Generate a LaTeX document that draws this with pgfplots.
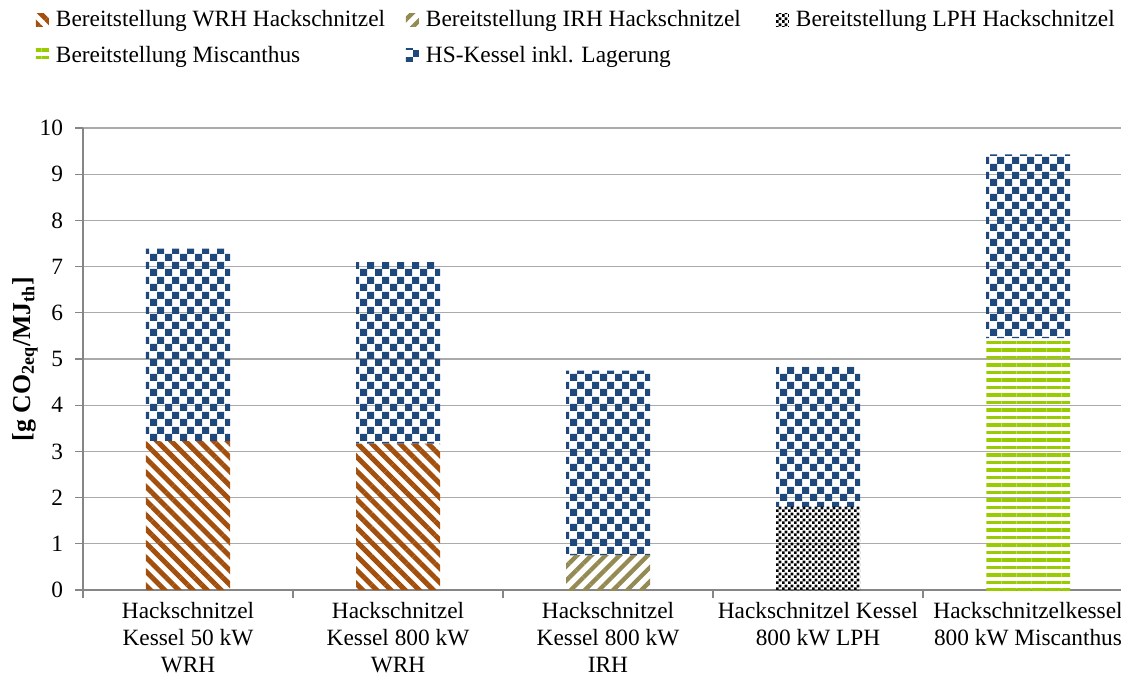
\documentclass[border=0pt]{standalone}
\usepackage{pgfplots}
\pgfplotsset{compat=1.18}
\usetikzlibrary{patterns,patterns.meta}
\usepackage{fontspec}
\setmainfont{Liberation Serif}

\definecolor{wrh}{RGB}{163,80,14}
\definecolor{irh}{RGB}{148,138,84}
\definecolor{misc}{RGB}{153,204,0}
\definecolor{hs}{RGB}{31,73,125}
\definecolor{gridgray}{RGB}{170,170,170}
\definecolor{axisgray}{RGB}{134,134,134}

\tikzdeclarepattern{
  name=BlueChecker, type=uncolored,
  bottom left={(0pt,0pt)}, top right={(9pt,9pt)}, tile size={(9pt,9pt)},
  code={\fill (0pt,0pt) rectangle (4.5pt,4.5pt); \fill (4.5pt,4.5pt) rectangle (9pt,9pt);}
}
\tikzdeclarepattern{
  name=SmallChecker, type=uncolored,
  bottom left={(0pt,0pt)}, top right={(3.4pt,3.4pt)}, tile size={(3.4pt,3.4pt)},
  code={\fill (0pt,0pt) rectangle (1.7pt,1.7pt); \fill (1.7pt,1.7pt) rectangle (3.4pt,3.4pt);}
}

\begin{document}
\begin{tikzpicture}
\begin{axis}[
  at={(49.8pt,54pt)}, anchor=south west,
  scale only axis, width=630pt, height=277.2pt,
  ybar stacked, bar width=0.4,
  xmin=-0.5, xmax=4.5, ymin=0, ymax=10,
  ytick={0,1,...,10},
  xtick={-0.5,0.5,1.5,2.5,3.5,4.5},
  xticklabels={},
  extra x ticks={0,1,2,3,4},
  extra x tick labels={{Hackschnitzel\\Kessel 50 kW\\WRH},{Hackschnitzel\\Kessel 800 kW\\WRH},{Hackschnitzel\\Kessel 800 kW\\IRH},{Hackschnitzel Kessel\\800 kW LPH},{Hackschnitzelkessel\\800 kW Miscanthus}},
  extra x tick style={major tick length=0pt},
  x tick label style={align=center, font=\fontsize{14}{16.2}\selectfont, yshift=-5pt, inner ysep=2pt},
  y tick label style={font=\fontsize{14}{16.5}\selectfont, xshift=-4pt},
  /pgf/number format/assume math mode=true,
  axis lines*=left,
  axis line style={draw=axisgray, line width=0.7pt},
  tick style={draw=axisgray, line width=0.7pt},
  tick align=outside,
  major tick length=4.5pt,
  ymajorgrids, grid style={draw=gridgray, line width=0.7pt},
  ylabel={\textbf{[g CO\textsubscript{2eq}/MJ\textsubscript{th}]}},
  ylabel style={at={(axis description cs:-0.0552,0.5)}, anchor=center, font=\fontsize{15.5}{18}\selectfont},
  legend columns=3,
  legend style={draw=none, fill=none, inner sep=0pt, outer sep=0pt,
    at={(axis description cs:-0.0448,1.255)}, anchor=north west,
    nodes={inner sep=0pt}, column sep=0pt, row sep=10.2pt,
    font=\fontsize{14}{16.5}\selectfont},
  legend cell align=left,
  legend image code/.code={\fill[#1] (0pt,-3.9pt) rectangle (7.8pt,3.9pt); \path (12pt,0pt);},
]
\addplot[draw=none, pattern={Lines[angle=-45,distance=6pt,line width=3pt]}, pattern color=wrh]
  coordinates {(0,3.22) (1,3.17) (2,0) (3,0) (4,0)};
\addlegendentry{\makebox[210pt][l]{Bereitstellung WRH Hackschnitzel}}
\addplot[draw=none, pattern={Lines[angle=45,distance=6pt,line width=2.6pt]}, pattern color=irh]
  coordinates {(0,0) (1,0) (2,0.75) (3,0) (4,0)};
\addlegendentry{\makebox[210pt][l]{Bereitstellung IRH Hackschnitzel}}
\addplot[draw=none, pattern=SmallChecker, pattern color=black]
  coordinates {(0,0) (1,0) (2,0) (3,1.80) (4,0)};
\addlegendentry{Bereitstellung LPH Hackschnitzel}
\addplot[draw=none, pattern={Lines[angle=0,distance=4.5pt,line width=2.2pt]}, pattern color=misc]
  coordinates {(0,0) (1,0) (2,0) (3,0) (4,5.45)};
\addlegendentry{\makebox[210pt][l]{Bereitstellung Miscanthus}}
\addplot[draw=none, pattern=BlueChecker, pattern color=hs]
  coordinates {(0,4.17) (1,3.93) (2,4.00) (3,3.04) (4,3.98)};
\addlegendentry{\makebox[210pt][l]{HS-Kessel inkl. Lagerung}}
\end{axis}
\pgfresetboundingbox
\path[use as bounding box] (0pt,0pt) rectangle (672.6pt,408pt);
\end{tikzpicture}
\end{document}
